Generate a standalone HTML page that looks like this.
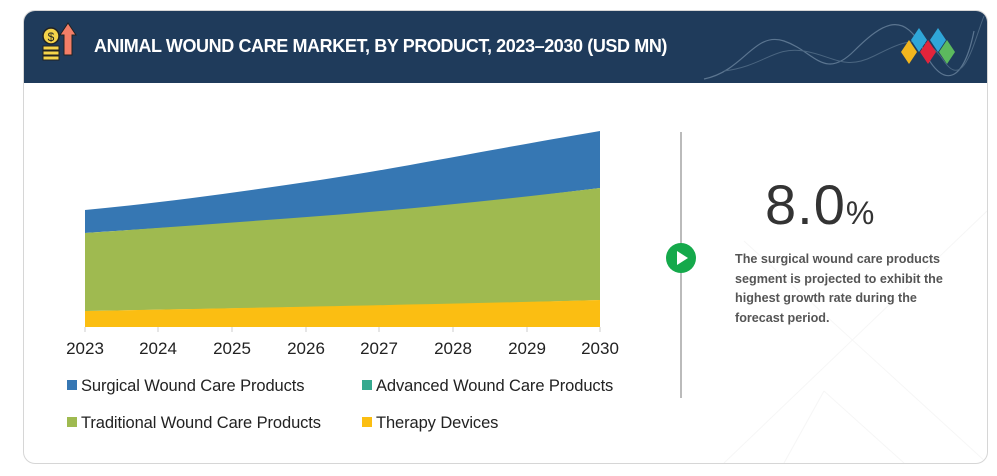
<!DOCTYPE html>
<html><head><meta charset="utf-8"><style>
body{margin:0;width:997px;height:476px;background:#fff;font-family:"Liberation Sans",sans-serif;position:relative;overflow:hidden}
.card{position:absolute;left:23px;top:10px;width:963px;height:452px;border:1px solid #d6d6d6;border-radius:12px;overflow:hidden;background:#fff}
.hdr{position:absolute;left:0;top:0;width:963px;height:72px;background:#1f3b5b}
.t{position:absolute;left:70px;top:25px;color:#fff;font-size:18px;font-weight:bold;letter-spacing:-0.4px}
.yr{position:absolute;top:339px;font-size:17px;color:#222;width:60px;text-align:center}
.lg{position:absolute;font-size:16.5px;color:#222;letter-spacing:-0.1px}
.lg i{display:inline-block;width:10px;height:10px;margin-right:4px;vertical-align:1px}
</style></head><body>
<div class="card">
<div class="hdr">
<svg width="963" height="72" style="position:absolute;left:0;top:0">
<path d="M680 68 C720 60,730 20,760 30 S800 70,830 40 S880 0,900 40 S940 70,950 20" stroke="#5b7590" fill="none" stroke-width="1.2"/>
<path d="M700 60 C740 55,750 35,780 40 S820 60,850 45 S900 20,920 50 S950 30,960 5" stroke="#4a6580" fill="none" stroke-width="1"/>
<polygon points="895,17 903,29 895,41 887,29" fill="#2fa6d8"/>
<polygon points="914,17 922,29 914,41 906,29" fill="#2fa6d8"/>
<polygon points="885,29 893,41 885,53 877,41" fill="#f2b61e"/>
<polygon points="904,29 912,41 904,53 896,41" fill="#e3243b"/>
<polygon points="923,29 931,41 923,53 915,41" fill="#5cba5e"/>
<circle cx="27" cy="25" r="8" fill="#f5d44a" stroke="#222" stroke-width="1.5"/>
<text x="27" y="30" font-size="12" text-anchor="middle" fill="#222" font-family="Liberation Sans">$</text>
<rect x="19" y="35" width="16" height="4" fill="#f5d44a" stroke="#222"/>
<rect x="19" y="40" width="16" height="4" fill="#f5d44a" stroke="#222"/>
<rect x="19" y="45" width="16" height="4" fill="#f5d44a" stroke="#222"/>
<polygon points="44,12 52,24 48,24 48,44 40,44 40,24 36,24" fill="#f47e67" stroke="#222"/>
</svg>
<div class="t">ANIMAL WOUND CARE MARKET, BY PRODUCT, 2023–2030 (USD MN)</div>
</div>
<svg width="963" height="452" style="position:absolute;left:0;top:0">
<g stroke="#f6f6f6" fill="none"><path d="M700 452 L963 200"/><path d="M720 230 L963 452"/><path d="M800 380 L880 452"/><path d="M760 452 L800 380"/></g>
</svg>
</div>
<svg width="997" height="476" style="position:absolute;left:0;top:0">
<path d="M85 210 C160 203,240 192,320 180 S460 155,600 131 L600 188 C500 200,420 212,320 218 S160 228,85 233 Z" fill="#3677b3"/>
<path d="M85 233 C160 228,240 222,320 216 S500 200,600 188 L600 300 C450 305,300 307,85 311 Z" fill="#9fba50"/>
<path d="M85 311 C300 307,450 304,600 300 L600 327 L85 327 Z" fill="#fbbe12"/>
<g stroke="#ccc"><line x1="85" y1="327" x2="85" y2="332"/><line x1="158" y1="327" x2="158" y2="332"/><line x1="232" y1="327" x2="232" y2="332"/><line x1="306" y1="327" x2="306" y2="332"/><line x1="379" y1="327" x2="379" y2="332"/><line x1="453" y1="327" x2="453" y2="332"/><line x1="527" y1="327" x2="527" y2="332"/><line x1="600" y1="327" x2="600" y2="332"/></g>
<line x1="681" y1="132" x2="681" y2="398" stroke="#bbb" stroke-width="2"/>
<circle cx="681" cy="258" r="15" fill="#15a94b"/>
<polygon points="677,251 677,265 688,258" fill="#fff"/>
</svg>
<div class="yr" style="left:55px">2023</div><div class="yr" style="left:128px">2024</div><div class="yr" style="left:202px">2025</div><div class="yr" style="left:276px">2026</div><div class="yr" style="left:349px">2027</div><div class="yr" style="left:423px">2028</div><div class="yr" style="left:497px">2029</div><div class="yr" style="left:570px">2030</div>
<div class="lg" style="left:67px;top:377px"><i style="background:#3677b3"></i>Surgical Wound Care Products</div>
<div class="lg" style="left:362px;top:377px"><i style="background:#35a98f"></i>Advanced Wound Care Products</div>
<div class="lg" style="left:67px;top:414px"><i style="background:#9fba50"></i>Traditional Wound Care Products</div>
<div class="lg" style="left:362px;top:414px"><i style="background:#fbbe12"></i>Therapy Devices</div>
<div style="position:absolute;left:765px;top:172px;font-size:56px;color:#333;letter-spacing:1px">8.0<span style="font-size:32px">%</span></div>
<div style="position:absolute;left:735px;top:250px;width:225px;font-size:12.6px;font-weight:bold;color:#555;line-height:19.5px">The surgical wound care products segment is projected to exhibit the highest growth rate during the forecast period.</div>
</body></html>
